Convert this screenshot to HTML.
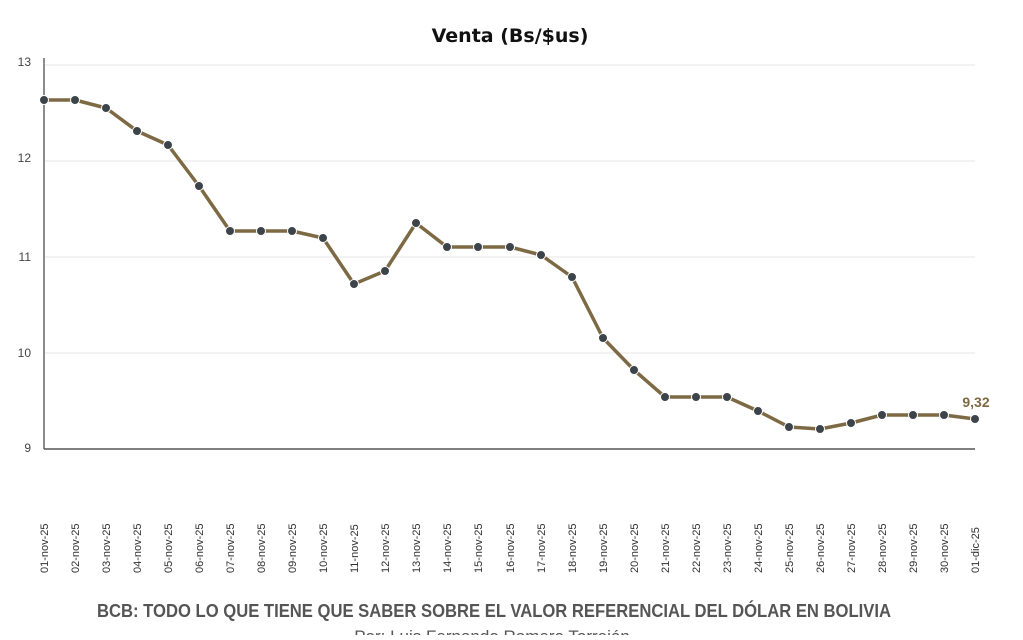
<!DOCTYPE html>
<html><head><meta charset="utf-8"><style>
body{margin:0;background:#fff;width:1023px;height:635px;overflow:hidden;font-family:"Liberation Sans",sans-serif}
</style></head><body>
<svg width="1023" height="635" xmlns="http://www.w3.org/2000/svg">
<text x="510" y="42" text-anchor="middle" font-family="DejaVu Sans, sans-serif" font-weight="bold" font-size="19" fill="#111">Venta (Bs/$us)</text>
<g stroke="#e6e6e6" stroke-width="1">
<line x1="44" y1="65" x2="975" y2="65"/><line x1="44" y1="161" x2="975" y2="161"/><line x1="44" y1="257" x2="975" y2="257"/><line x1="44" y1="353" x2="975" y2="353"/>
</g>
<line x1="44" y1="58" x2="44" y2="449" stroke="#666" stroke-width="1.5"/>
<line x1="44" y1="449" x2="975" y2="449" stroke="#555" stroke-width="1.5"/>
<g font-size="12" fill="#444" text-anchor="end">
<text x="31" y="66">13</text><text x="31" y="162">12</text><text x="31" y="261">11</text><text x="31" y="357">10</text><text x="31" y="452">9</text>
</g>
<polyline fill="none" stroke="#7d6a45" stroke-width="3.5" stroke-linejoin="round" points="44,100 75,100 106,108 137,131 168,145 199,186 230,231 261,231 292,231 323,238 354,284 385,271 416,223 447,247 478,247 510,247 541,255 572,277 603,338 634,370 665,397 696,397 727,397 758,411 789,427 820,429 851,423 882,415 913,415 944,415 975,419"/>
<g fill="#3d4449" stroke="#fff" stroke-width="1">
<circle cx="44" cy="100" r="4.5"/><circle cx="75" cy="100" r="4.5"/><circle cx="106" cy="108" r="4.5"/><circle cx="137" cy="131" r="4.5"/><circle cx="168" cy="145" r="4.5"/><circle cx="199" cy="186" r="4.5"/><circle cx="230" cy="231" r="4.5"/><circle cx="261" cy="231" r="4.5"/><circle cx="292" cy="231" r="4.5"/><circle cx="323" cy="238" r="4.5"/><circle cx="354" cy="284" r="4.5"/><circle cx="385" cy="271" r="4.5"/><circle cx="416" cy="223" r="4.5"/><circle cx="447" cy="247" r="4.5"/><circle cx="478" cy="247" r="4.5"/><circle cx="510" cy="247" r="4.5"/><circle cx="541" cy="255" r="4.5"/><circle cx="572" cy="277" r="4.5"/><circle cx="603" cy="338" r="4.5"/><circle cx="634" cy="370" r="4.5"/><circle cx="665" cy="397" r="4.5"/><circle cx="696" cy="397" r="4.5"/><circle cx="727" cy="397" r="4.5"/><circle cx="758" cy="411" r="4.5"/><circle cx="789" cy="427" r="4.5"/><circle cx="820" cy="429" r="4.5"/><circle cx="851" cy="423" r="4.5"/><circle cx="882" cy="415" r="4.5"/><circle cx="913" cy="415" r="4.5"/><circle cx="944" cy="415" r="4.5"/><circle cx="975" cy="419" r="4.5"/>
</g>
<text x="976" y="407" text-anchor="middle" font-weight="bold" font-size="14" fill="#7d6a45">9,32</text>
<g font-size="11" fill="#333" text-anchor="start">
<text transform="translate(48,573) rotate(-90)">01-nov-25</text>
<text transform="translate(79,573) rotate(-90)">02-nov-25</text>
<text transform="translate(110,573) rotate(-90)">03-nov-25</text>
<text transform="translate(141,573) rotate(-90)">04-nov-25</text>
<text transform="translate(172,573) rotate(-90)">05-nov-25</text>
<text transform="translate(203,573) rotate(-90)">06-nov-25</text>
<text transform="translate(234,573) rotate(-90)">07-nov-25</text>
<text transform="translate(265,573) rotate(-90)">08-nov-25</text>
<text transform="translate(296,573) rotate(-90)">09-nov-25</text>
<text transform="translate(327,573) rotate(-90)">10-nov-25</text>
<text transform="translate(358,573) rotate(-90)">11-nov-25</text>
<text transform="translate(389,573) rotate(-90)">12-nov-25</text>
<text transform="translate(420,573) rotate(-90)">13-nov-25</text>
<text transform="translate(451,573) rotate(-90)">14-nov-25</text>
<text transform="translate(482,573) rotate(-90)">15-nov-25</text>
<text transform="translate(514,573) rotate(-90)">16-nov-25</text>
<text transform="translate(545,573) rotate(-90)">17-nov-25</text>
<text transform="translate(576,573) rotate(-90)">18-nov-25</text>
<text transform="translate(607,573) rotate(-90)">19-nov-25</text>
<text transform="translate(638,573) rotate(-90)">20-nov-25</text>
<text transform="translate(669,573) rotate(-90)">21-nov-25</text>
<text transform="translate(700,573) rotate(-90)">22-nov-25</text>
<text transform="translate(731,573) rotate(-90)">23-nov-25</text>
<text transform="translate(762,573) rotate(-90)">24-nov-25</text>
<text transform="translate(793,573) rotate(-90)">25-nov-25</text>
<text transform="translate(824,573) rotate(-90)">26-nov-25</text>
<text transform="translate(855,573) rotate(-90)">27-nov-25</text>
<text transform="translate(886,573) rotate(-90)">28-nov-25</text>
<text transform="translate(917,573) rotate(-90)">29-nov-25</text>
<text transform="translate(948,573) rotate(-90)">30-nov-25</text>
<text transform="translate(979,573) rotate(-90)">01-dic-25</text>
</g>
<text x="494" y="617" text-anchor="middle" font-weight="bold" font-size="18" fill="#555" textLength="794" lengthAdjust="spacingAndGlyphs">BCB: TODO LO QUE TIENE QUE SABER SOBRE EL VALOR REFERENCIAL DEL DÓLAR EN BOLIVIA</text>
<text x="492" y="642" text-anchor="middle" font-size="17" fill="#555">Por: Luis Fernando Romero Torrejón</text>
</svg>
</body></html>
